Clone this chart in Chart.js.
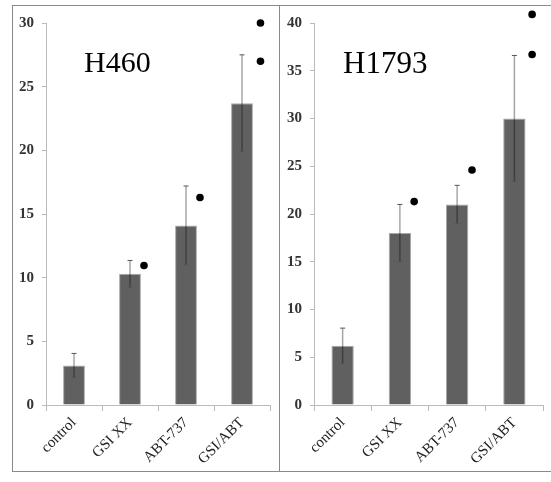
<!DOCTYPE html>
<html>
<head>
<meta charset="utf-8">
<script src="https://cdn.jsdelivr.net/npm/chart.js@4"></script>
<style>
  body { margin: 0; background: #fff; width: 551px; height: 482px; overflow: hidden; position: relative; }
  .frame { position: absolute; left: 12px; top: 5px; width: 560px; height: 465px;
           border-top: 1px solid #8a8a8a; border-left: 1px solid #8a8a8a; border-bottom: 1px solid #8a8a8a; }
  .divider { position: absolute; left: 279px; top: 5px; width: 1px; height: 466px; background: #8a8a8a; }
  .box { position: absolute; top: 6px; height: 465px; }
  .label { position: absolute; font-family: "Liberation Serif", serif; line-height: 1; color: #000; }
</style>
</head>
<body>
<div class="frame"></div>
<div class="divider"></div>
<div class="box" style="left:13px;width:266px"><canvas id="c1"></canvas></div>
<div class="box" style="left:281px;width:270px"><canvas id="c2"></canvas></div>
<div class="label" style="left:84px;top:47px;font-size:30px">H460</div>
<div class="label" style="left:343px;top:47px;font-size:31px">H1793</div>
<script>
const categories = ['control', 'GSI XX', 'ABT-737', 'GSI/ABT'];

const h460Values = [3.1, 10.3, 14.1, 23.7];
const h460Errors = [0.95, 1.05, 3.1, 3.8];
// significance dots: x is category index plus a small shift to the right
const h460Dots = [{x: 1.25, y: 10.95}, {x: 2.25, y: 16.3}, {x: 3.33, y: 30.0}, {x: 3.33, y: 27.0}];

const h1793Values = [6.2, 18.0, 21.0, 30.0];
const h1793Errors = [1.85, 3.0, 2.0, 6.6];
const h1793Dots = [{x: 1.25, y: 21.3}, {x: 2.26, y: 24.6}, {x: 3.31, y: 40.9}, {x: 3.31, y: 36.7}];

const serif = 'Liberation Serif';

// error bars and dots drawn with the chart's own scales
const marks = {
    id: 'marks',
    afterDatasetsDraw(chart, args, opts) {
        const ctx = chart.ctx;
        const meta = chart.getDatasetMeta(0);
        const xScale = chart.scales.x;
        const yScale = chart.scales.y;
        ctx.save();
        meta.data.forEach(function (bar, i) {
            const v = chart.data.datasets[0].data[i];
            const e = opts.errors[i];
            const top = yScale.getPixelForValue(v + e);
            const bot = yScale.getPixelForValue(v - e);
            ctx.strokeStyle = 'rgba(0,0,0,0.35)';
            ctx.lineWidth = 1.5;
            ctx.beginPath();
            ctx.moveTo(bar.x, top);
            ctx.lineTo(bar.x, bot);
            ctx.stroke();
            ctx.strokeStyle = '#555';
            ctx.lineWidth = 1;
            ctx.beginPath();
            ctx.moveTo(bar.x - 2.5, top);
            ctx.lineTo(bar.x + 2.5, top);
            ctx.moveTo(bar.x - 2.5, bot);
            ctx.lineTo(bar.x + 2.5, bot);
            ctx.stroke();
        });
        ctx.fillStyle = '#000';
        opts.dots.forEach(function (d) {
            const px = xScale.getPixelForDecimal((d.x + 0.5) / categories.length);
            ctx.beginPath();
            ctx.arc(px, yScale.getPixelForValue(d.y), 3.8, 0, Math.PI * 2);
            ctx.fill();
        });
        ctx.restore();
    }
};

function makeChart(id, values, errors, dots, yMax, rightPad) {
    return new Chart(document.getElementById(id), {
        type: 'bar',
        data: {
            labels: categories,
            datasets: [{
                data: values,
                backgroundColor: '#606060',
                borderColor: '#a8a8a8',
                borderWidth: 1,
                grouped: false,
                categoryPercentage: 1,
                barPercentage: 0.39
            }]
        },
        options: {
            responsive: true,
            maintainAspectRatio: false,
            animation: false,
            layout: { padding: { top: 15, right: rightPad, left: 0, bottom: 0 } },
            plugins: {
                legend: { display: false },
                tooltip: { enabled: false },
                marks: { errors: errors, dots: dots }
            },
            scales: {
                x: {
                    offset: true,
                    grid: { offset: true, drawOnChartArea: false, color: '#bbb', tickLength: 6 },
                    border: { color: '#bbb' },
                    ticks: {
                        minRotation: 45, maxRotation: 45, padding: 3,
                        color: '#222', font: { family: serif, size: 15 }
                    },
                    afterFit: function (s) { s.height = 66; }
                },
                y: {
                    min: 0, max: yMax,
                    grid: { drawOnChartArea: false, color: '#bbb', tickLength: 4 },
                    border: { color: '#bbb' },
                    ticks: {
                        stepSize: 5, padding: 8,
                        color: '#333', font: { family: serif, size: 15, weight: 'bold' }
                    },
                    afterFit: function (s) { s.width = 33; }
                }
            }
        },
        plugins: [marks]
    });
}

makeChart('c1', h460Values, h460Errors, h460Dots, 30, 9);
makeChart('c2', h1793Values, h1793Errors, h1793Dots, 40, 8);
</script>
</body>
</html>
